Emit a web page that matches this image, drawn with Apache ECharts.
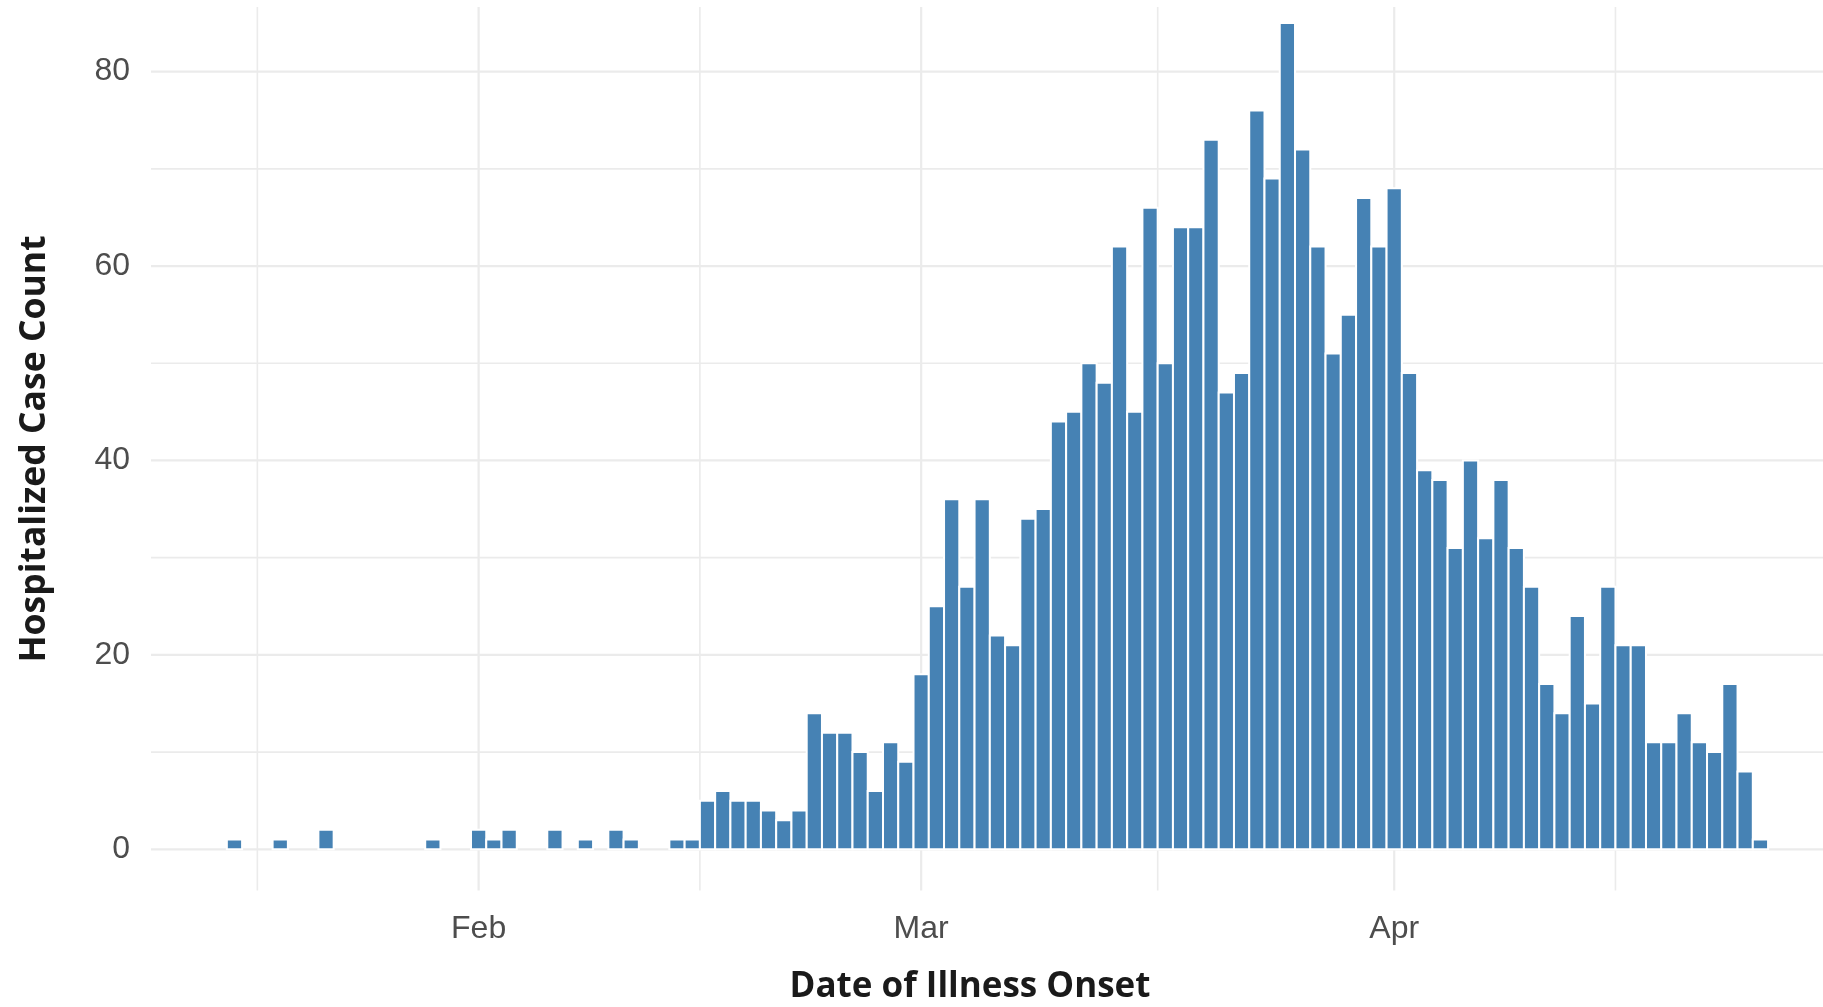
<!DOCTYPE html>
<html>
<head>
<meta charset="utf-8">
<title>Hospitalized Case Count by Date of Illness Onset</title>
<script src="https://cdn.jsdelivr.net/npm/echarts@6/dist/echarts.min.js"></script>
<style>
html, body { margin: 0; padding: 0; background: #fff; }
#chart { width: 1823px; height: 1007px; }
</style>
</head>
<body>
<div id="chart"></div>
<script>
// daily counts, 2020
var onsetDates = [
	'2020-01-16', '2020-01-19', '2020-01-22', '2020-01-29',
	'2020-02-01', '2020-02-02', '2020-02-03', '2020-02-06', '2020-02-08', '2020-02-10', '2020-02-11',
	'2020-02-14', '2020-02-15', '2020-02-16', '2020-02-17', '2020-02-18', '2020-02-19', '2020-02-20',
	'2020-02-21', '2020-02-22', '2020-02-23', '2020-02-24', '2020-02-25', '2020-02-26', '2020-02-27',
	'2020-02-28', '2020-02-29',
	'2020-03-01', '2020-03-02', '2020-03-03', '2020-03-04', '2020-03-05', '2020-03-06', '2020-03-07',
	'2020-03-08', '2020-03-09', '2020-03-10', '2020-03-11', '2020-03-12', '2020-03-13', '2020-03-14',
	'2020-03-15', '2020-03-16', '2020-03-17', '2020-03-18', '2020-03-19', '2020-03-20', '2020-03-21',
	'2020-03-22', '2020-03-23', '2020-03-24', '2020-03-25', '2020-03-26', '2020-03-27', '2020-03-28',
	'2020-03-29', '2020-03-30', '2020-03-31',
	'2020-04-01', '2020-04-02', '2020-04-03', '2020-04-04', '2020-04-05', '2020-04-06', '2020-04-07',
	'2020-04-08', '2020-04-09', '2020-04-10', '2020-04-11', '2020-04-12', '2020-04-13', '2020-04-14',
	'2020-04-15', '2020-04-16', '2020-04-17', '2020-04-18', '2020-04-19', '2020-04-20', '2020-04-21',
	'2020-04-22', '2020-04-23', '2020-04-24', '2020-04-25'
];
var caseCounts = [
	1, 1, 2, 1,
	2, 1, 2, 2, 1, 2, 1,
	1, 1, 5, 6, 5, 5, 4,
	3, 4, 14, 12, 12, 10, 6,
	11, 9,
	18, 25, 36, 27, 36, 22, 21,
	34, 35, 44, 45, 50, 48, 62,
	45, 66, 50, 64, 64, 73, 47,
	49, 76, 69, 85, 72, 62, 51,
	55, 67, 62,
	68, 49, 39, 38, 31, 40, 32,
	38, 31, 27, 17, 14, 24, 15,
	27, 21, 21, 11, 11, 14, 11,
	10, 17, 8, 1
];
var monthTicks = ['2020-02-01', '2020-03-01', '2020-04-01'];
var monthLabels = ['Feb', 'Mar', 'Apr'];
var yTicks = [0, 20, 40, 60, 80];
var yMinorTicks = [10, 30, 50, 70];

window.onload = function() {
	var chart = echarts.init(document.getElementById('chart'));

	// days since 2020-01-01
	function toDay(s) {
		var p = s.split('-');
		return (Date.UTC(+p[0], +p[1] - 1, +p[2]) - Date.UTC(2020, 0, 1)) / 864e5;
	}

	var barData = [];
	for (var i = 0; i < onsetDates.length; i++) {
		barData.push([toDay(onsetDates[i]), caseCounts[i]]);
	}
	var monthDays = monthTicks.map(toDay);

	// ggplot style minor breaks: midpoints, majors extended by one step each side
	var step = monthDays[1] - monthDays[0];
	var ext = [monthDays[0] - step].concat(monthDays, [monthDays[monthDays.length - 1] + step]);
	var vLines = [];
	for (var i = 0; i < ext.length; i++) {
		if (i > 0) vLines.push([(ext[i - 1] + ext[i]) / 2, 0]);
		if (i > 0 && i < ext.length - 1) vLines.push([ext[i], 1]);
	}
	var hLines = [];
	yTicks.forEach(function(v) { hLines.push([v, 1]); });
	yMinorTicks.forEach(function(v) { hLines.push([v, 0]); });

	var tickFont = {
		fontFamily: 'Liberation Sans',
		fontSize: 32,
		color: '#4d4d4d'
	};

	var option = {
		animation: false,
		backgroundColor: '#fff',
		grid: {
			left: 151,
			right: 0,
			top: 7,
			bottom: 116.4
		},
		xAxis: {
			type: 'value',
			min: 9.53,
			max: 119.1,
			axisLine: { show: false },
			axisTick: { show: false },
			splitLine: { show: false },
			axisLabel: Object.assign({
				customValues: monthDays,
				margin: 23,
				formatter: function(v) {
					var k = monthDays.indexOf(v);
					return k >= 0 ? monthLabels[k] : '';
				}
			}, tickFont)
		},
		yAxis: {
			type: 'value',
			min: -4.25,
			max: 86.65,
			axisLine: { show: false },
			axisTick: { show: false },
			splitLine: { show: false },
			axisLabel: Object.assign({
				customValues: yTicks,
				margin: 21,
				padding: [8, 0, 0, 0]
			}, tickFont)
		},
		series: [
			{
				// vertical grid lines
				type: 'custom',
				z: 1,
				silent: true,
				data: vLines,
				renderItem: function(params, api) {
					var x = api.coord([api.value(0), 0])[0];
					var cs = params.coordSys;
					return {
						type: 'line',
						shape: { x1: x, y1: cs.y, x2: x, y2: cs.y + cs.height },
						style: { stroke: '#ebebeb', lineWidth: api.value(1) ? 2.2 : 1.6 }
					};
				}
			},
			{
				// horizontal grid lines
				type: 'custom',
				z: 1,
				silent: true,
				data: hLines,
				renderItem: function(params, api) {
					var y = api.coord([10, api.value(0)])[1];
					var cs = params.coordSys;
					return {
						type: 'line',
						shape: { x1: cs.x, y1: y, x2: cs.x + cs.width, y2: y },
						style: { stroke: '#ebebeb', lineWidth: api.value(1) ? 2.2 : 1.6 }
					};
				}
			},
			{
				// histogram bars, one day wide
				type: 'custom',
				z: 2,
				data: barData,
				renderItem: function(params, api) {
					var d = api.value(0);
					var p0 = api.coord([d - 0.5, 0]);
					var p1 = api.coord([d + 0.5, api.value(1)]);
					return {
						type: 'rect',
						shape: { x: p0[0], y: p1[1], width: p1[0] - p0[0], height: p0[1] - p1[1] },
						style: { fill: '#4682b4', stroke: '#ffffff', lineWidth: 2 }
					};
				}
			}
		],
		graphic: [
			{
				type: 'text',
				x: 970,
				y: 987,
				style: {
					text: 'Date of Illness Onset',
					font: 'bold 35px "Open Sans"',
					fill: '#1a1a1a',
					align: 'center',
					verticalAlign: 'middle',
					textAlign: 'center',
					textVerticalAlign: 'middle'
				}
			},
			{
				type: 'text',
				x: 35,
				y: 449,
				rotation: Math.PI / 2,
				style: {
					text: 'Hospitalized Case Count',
					font: 'bold 35.5px "Open Sans"',
					fill: '#1a1a1a',
					align: 'center',
					verticalAlign: 'middle',
					textAlign: 'center',
					textVerticalAlign: 'middle'
				}
			}
		]
	};
	chart.setOption(option);
};
</script>
</body>
</html>
